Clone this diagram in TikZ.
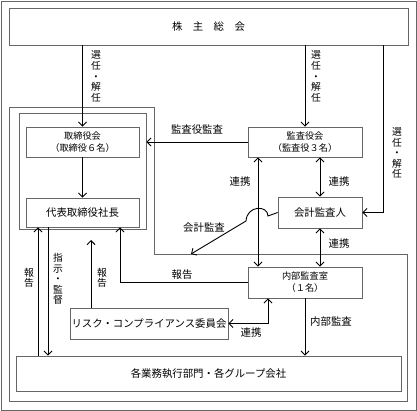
\documentclass[tikz,border=0pt]{standalone}
\usepackage{fontspec}
\setmainfont{Noto Sans CJK JP}
\usetikzlibrary{arrows.meta}
\begin{document}
\begin{tikzpicture}[x=1pt,y=-1pt,
 box/.style={draw=black!60, line width=0.8pt, inner sep=0pt, align=center, font=\fontsize{10.4}{12}\selectfont},
 box2/.style={box, font=\fontsize{9.2}{12}\selectfont},
 conn/.style={line width=0.9pt, black},
 arr/.style={conn, -{Straight Barb[length=4pt,width=8pt]}},
 dbl/.style={conn, {Straight Barb[length=4pt,width=8pt]}-{Straight Barb[length=4pt,width=8pt]}},
 lbl/.style={inner sep=0pt, font=\fontsize{10.4}{12}\selectfont},
 vlbl/.style={inner sep=0pt, align=center, font=\fontsize{9.8}{10.6}\selectfont}
]
\useasboundingbox (0,0) rectangle (417,411);
\draw[black!60, line width=0.8pt] (1,1) rectangle (416,410);
% executive region
\draw[black!60, line width=0.8pt] (9,107) -- (154,107) -- (154,254) -- (407,254) -- (407,401) -- (9,401) -- cycle;

\node[box, minimum width=399pt, minimum height=37pt] (soukai) at (208.5,26.5) {株\hspace{1em}主\hspace{1em}総\hspace{1em}会};
\node[box, minimum width=127pt, minimum height=116pt] (board) at (82.5,171) {};
\node[box2, minimum width=113pt, minimum height=30pt] (tori) at (82.5,142) {取締役会\\（取締役６名）};
\node[box, minimum width=113pt, minimum height=29pt] (daihyo) at (82.5,212.5) {代表取締役社長};
\node[box2, minimum width=114pt, minimum height=30pt] (kansa) at (305,142) {監査役会\\（監査役３名）};
\node[box, minimum width=84pt, minimum height=31pt] (kaikei) at (320,212.5) {会計監査人};
\node[box2, minimum width=114pt, minimum height=31pt] (naibu) at (305,282.5) {内部監査室\\（１名）};
\node[box, minimum width=158pt, minimum height=31pt] (risk) at (149,323.5) {リスク・コンプライアンス委員会};
\node[box, minimum width=385pt, minimum height=35pt] (gyomu) at (208.5,373.5) {各業務執行部門・各グループ会社};

\coordinate (xr) at (383,0);
\coordinate (x258) at (258,0);
\coordinate (x120) at (120,0);
\coordinate (x38) at (38,0);
\coordinate (x48) at (48,0);
\coordinate (x268) at (268,0);
\coordinate (kt) at (191,254);
\coordinate (rk) at (91,240);

\draw[arr] (soukai.south -| tori.north) -- (tori.north);
\draw[arr] (soukai.south -| kansa.north) -- (kansa.north);
\draw[arr] (soukai.south -| xr) |- (kaikei.east);
\draw[arr] (tori.south) -- (daihyo.north);
\draw[arr] (kansa.west) -- (kansa.west -| board.east);
\draw[dbl] (kansa.south -| kaikei.north) -- (kaikei.north);
\draw[dbl] (kansa.south -| x258) -- (naibu.north -| x258);
\draw[dbl] (kaikei.south) -- (kaikei.south |- naibu.north);
\draw[arr] (kaikei.west) -- (268,216) .. controls (268,205) and (247,205) .. (246,221) -- (kt);
\draw[arr] (naibu.west) -| (daihyo.south -| x120);
\draw[arr] (gyomu.north -| x38) -- (daihyo.south -| x38);
\draw[arr] (daihyo.south -| x48) -- (gyomu.north -| x48);
\draw[arr] (risk.north -| rk) -- (rk);
\draw[dbl] (risk.east) -| (naibu.south -| x268);
\draw[arr] (naibu.south) -- (naibu.south |- gyomu.north);

\node[vlbl] (l1) at (96,76.5) {選\\任\\・\\解\\任};
\node[vlbl] (l2) at (316,76.5) {選\\任\\・\\解\\任};
\node[vlbl] (l3) at (397,153) {選\\任\\・\\解\\任};
\node[lbl] (l4) at (197,130) {監査役監査};
\node[lbl] (l5) at (240,182) {連携};
\node[lbl] (l6) at (339,182) {連携};
\node[lbl] (l7) at (339,244) {連携};
\node[lbl] (l8) at (204,228) {会計監査};
\node[lbl] (l9) at (182,275) {報告};
\node[vlbl] (l10) at (29,278) {報\\告};
\node[vlbl] (l11) at (58,279) {指\\示\\・\\監\\督};
\node[vlbl] (l12) at (102,278) {報\\告};
\node[lbl] (l13) at (251,333) {連携};
\node[lbl] (l14) at (331,322) {内部監査};
\end{tikzpicture}
\end{document}
